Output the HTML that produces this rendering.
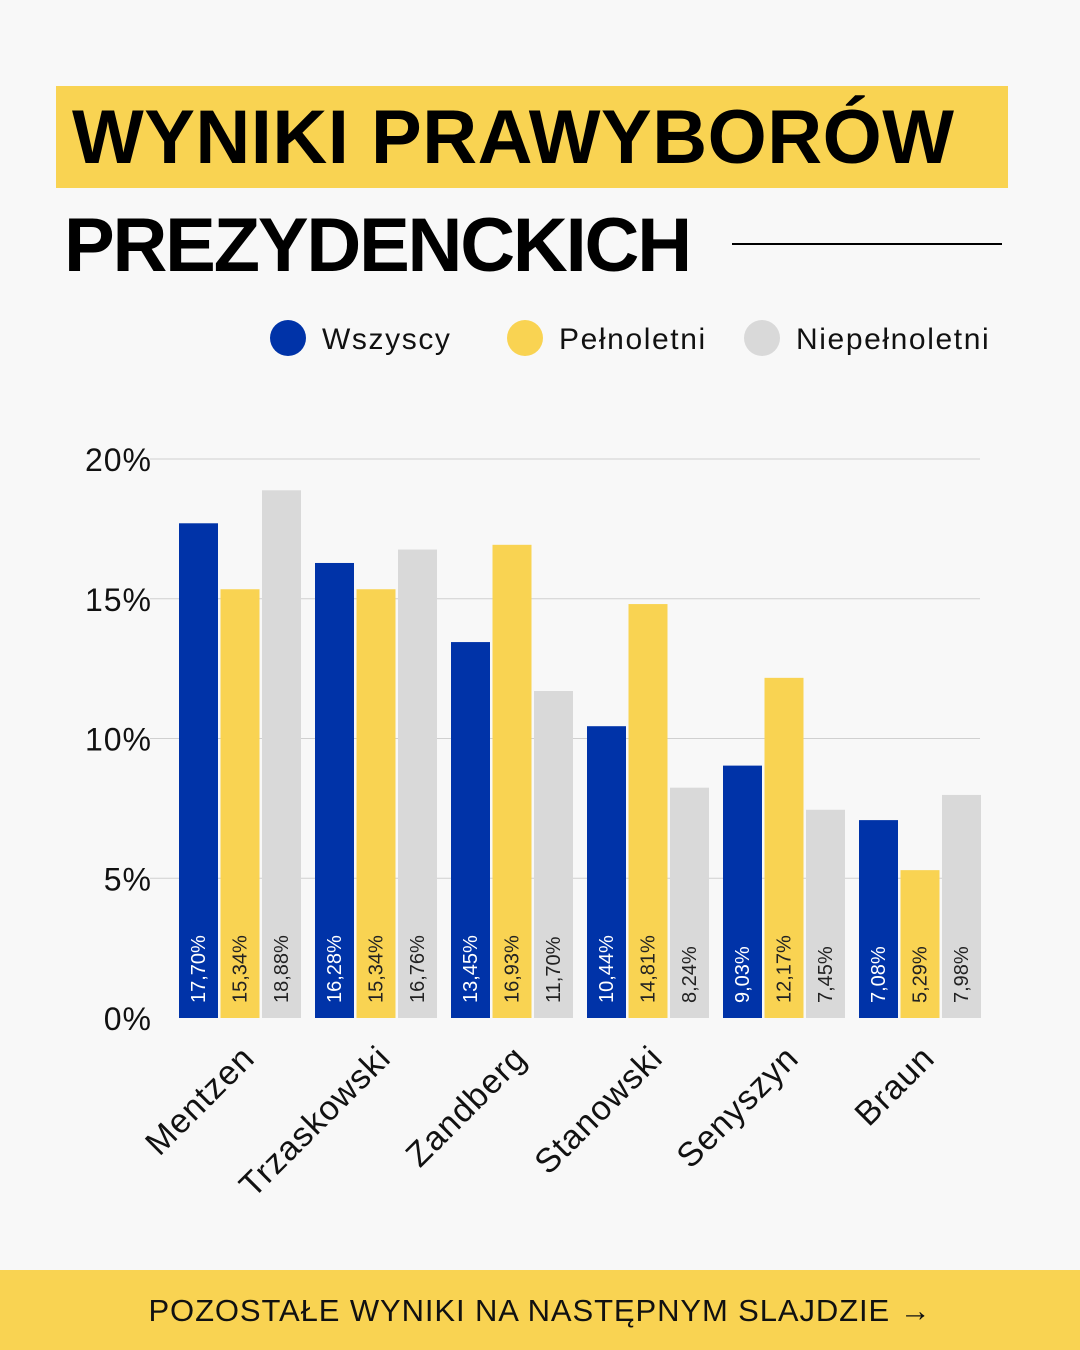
<!DOCTYPE html>
<html><head><meta charset="utf-8"><style>
body{margin:0;width:1080px;height:1350px;background:#f8f8f8;font-family:"Liberation Sans",sans-serif;position:relative;overflow:hidden}
.t{position:absolute;font-weight:bold;color:#000}
</style></head><body>
<div style="position:absolute;left:56px;top:86px;width:952px;height:102px;background:#f9d352"></div>
<div class="t" style="left:72px;top:96px;font-size:76px;line-height:84px;letter-spacing:0.5px">WYNIKI PRAWYBORÓW</div>
<div class="t" style="left:64px;top:204px;font-size:76px;line-height:84px;letter-spacing:-2.2px">PREZYDENCKICH</div>
<div style="position:absolute;left:732px;top:243px;width:270px;height:2px;background:#000"></div>
<svg width="1080" height="1350" style="position:absolute;left:0;top:0" id="svg"></svg>
<div style="position:absolute;left:0;top:1270px;width:1080px;height:80px;background:#f9d352"></div>
<div style="position:absolute;left:0;top:1293px;width:1080px;text-align:center;font-size:31px;letter-spacing:0.9px;color:#111">POZOSTAŁE WYNIKI NA NASTĘPNYM SLAJDZIE →</div>
<script>
const categories=["Mentzen","Trzaskowski","Zandberg","Stanowski","Senyszyn","Braun"];
const wszyscy=[17.70,16.28,13.45,10.44,9.03,7.08];
const pelnoletni=[15.34,15.34,16.93,14.81,12.17,5.29];
const niepelnoletni=[18.88,16.76,11.70,8.24,7.45,7.98];
const ticks=[0,5,10,15,20];
const seriesNames=["Wszyscy","Pełnoletni","Niepełnoletni"];
const colors=["#0033a8","#f9d352","#d9d9d9"];
const svg=document.getElementById('svg');const NS="http://www.w3.org/2000/svg";
function y(v){return 1018-v*27.95;}
function x(i,s){return 179+i*136+s*41.5;}
function mk(t,a,txt){const e=document.createElementNS(NS,t);for(const k in a)e.setAttribute(k,a[k]);if(txt!=null)e.textContent=txt;svg.appendChild(e);return e;}
ticks.forEach(t=>{
 if(t>0){const l=mk('line',{x1:150,x2:980,y1:y(t),y2:y(t),stroke:'#d0d0d0','stroke-width':1});
 
 }
 const tx=mk('text',{x:152,y:y(t)+12,'text-anchor':'end','font-size':32,'letter-spacing':1,fill:'#111','font-family':'Liberation Sans'},t+'%');
 
 
});
[wszyscy,pelnoletni,niepelnoletni].forEach((arr,s)=>{
 arr.forEach((v,i)=>{
  const r=mk('rect',{x:x(i,s),y:y(v),width:39,height:y(0)-y(v),fill:colors[s]});
  
  
  const cx=x(i,s)+26,cy=1003;
  const t=mk('text',{x:cx,y:cy,transform:`rotate(-90 ${cx} ${cy})`,'font-size':20,fill:s==0?'#fff':'#222','font-family':'Liberation Sans'},v.toFixed(2).replace('.',',')+'%');
  
  
 });
});
categories.forEach((c,i)=>{
 const ex=x(i,1)+36,ey=1060;
 const t=mk('text',{x:ex,y:ey,transform:`rotate(-45 ${ex} ${ey})`,'text-anchor':'end','font-size':34,'letter-spacing':1,fill:'#111','font-family':'Liberation Sans'},c);
 
 
});
const lx=[288,525,762];
seriesNames.forEach((n,s)=>{
 const c=mk('circle',{cx:lx[s],cy:338,r:18,fill:colors[s]});
 
 
 const t=mk('text',{x:lx[s]+34,y:349,'font-size':30,'letter-spacing':1.6,fill:'#111','font-family':'Liberation Sans'},n);
 
 
});
</script>
</body></html>
